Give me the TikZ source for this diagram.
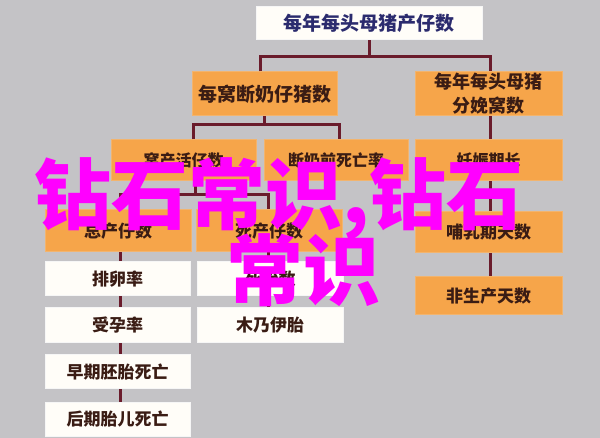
\documentclass[tikz,border=0pt]{standalone}
\usepackage{fontspec}
\newfontfamily\cjk{Noto Sans CJK SC}
\definecolor{bg}{HTML}{C4C3C6}
\definecolor{boxorange}{HTML}{F6A54A}
\definecolor{boxedge}{HTML}{F2B46E}
\definecolor{boxwhite}{HTML}{FFFDF8}
\definecolor{txtbrown}{HTML}{3A1C14}
\definecolor{txtnavy}{HTML}{2B2B6E}
\definecolor{conncol}{HTML}{6A1B2B}
\definecolor{wm}{HTML}{FF00FF}
\tikzset{
  basebox/.style={inner sep=0pt, text=txtbrown, font=\cjk\bfseries\fontsize{17}{21}\selectfont, align=center},
  obox/.style={basebox, fill=boxorange, draw=boxedge, line width=1pt},
  wbox/.style={basebox, fill=boxwhite, draw=white!85!bg, line width=1pt},
  conn/.style={draw=conncol, line width=3pt},
  overlay text/.style={text=wm, inner sep=0pt, anchor=base west, font=\cjk\bfseries\fontsize{77}{77}\selectfont}
}
\begin{document}
\begin{tikzpicture}[x=1pt,y=-1pt]
\useasboundingbox (0,0) rectangle (600,438);
\fill[bg] (0,0) rectangle (600,438);
% boxes
\node[wbox, text=txtnavy, font=\cjk\bfseries\fontsize{19}{22}\selectfont, minimum width=226, minimum height=33] (T) at (369,23.5) {每年每头母猪产仔数};
\node[obox, font=\cjk\bfseries\fontsize{19}{22}\selectfont, minimum width=145, minimum height=44] (L2) at (264.5,94) {每窝断奶仔猪数};
\node[obox, font=\cjk\bfseries\fontsize{18}{24}\selectfont, minimum width=147, minimum height=44] (R2) at (488.5,94) {每年每头母猪\\分娩窝数};
\node[obox, font=\cjk\bfseries\fontsize{16}{20}\selectfont, minimum width=145, minimum height=41] (A) at (183.5,160.5) {窝产活仔数};
\node[obox, font=\cjk\bfseries\fontsize{16}{20}\selectfont, minimum width=144, minimum height=41] (B) at (336,160.5) {断奶前死亡率};
\node[obox, font=\cjk\bfseries\fontsize{16}{20}\selectfont, minimum width=147, minimum height=41] (C) at (488.5,160.5) {妊娠期长};
\node[obox, minimum width=146, minimum height=42] (D) at (118,231) {总产仔数};
\node[obox, minimum width=146, minimum height=42] (E) at (269,231) {死产仔数};
\node[obox, minimum width=147, minimum height=41] (F) at (488.5,232.5) {哺乳期天数};
\node[obox, minimum width=147, minimum height=38] (G) at (488.5,296) {非生产天数};
\node[wbox, minimum width=145, minimum height=34] (W1) at (117.5,279) {排卵率};
\node[wbox, minimum width=146, minimum height=34] (W2) at (270,279) {死胎数};
\node[wbox, minimum width=145, minimum height=35] (W3) at (117.5,325.5) {受孕率};
\node[wbox, minimum width=146, minimum height=35] (W4) at (270,325.5) {木乃伊胎};
\node[wbox, minimum width=145, minimum height=34] (W5) at (117.5,372) {早期胚胎死亡};
\node[wbox, minimum width=145, minimum height=34] (W6) at (117.5,419) {后期胎儿死亡};
% junction coordinates
\coordinate (j1l) at (260,57);
\coordinate (j1r) at (490,57);
\coordinate (j2l) at (193,125);
\coordinate (j2r) at (339,125);
\coordinate (j3l) at (120,195);
\coordinate (j3r) at (268,195);
\coordinate (j3m) at (195,195);
% connectors
\draw[conn] (T.south) -- (T.south |- j1l);
\draw[conn] (L2.north -| j1l) -- (j1l) -- (j1r) -- (R2.north -| j1r);
\draw[conn] (L2.south) -- (L2.south |- j2l);
\draw[conn] (A.north -| j2l) -- (j2l) -- (j2r) -- (B.north -| j2r);
\draw[conn] (R2.south -| j1r) -- (C.north -| j1r);
\draw[conn] (A.south -| j3m) -- (j3m);
\draw[conn] (D.north -| j3l) -- (j3l) -- (j3r) -- (E.north -| j3r);
\draw[conn] (C.south -| j1r) -- (F.north -| j1r);
\draw[conn] (F.south -| j1r) -- (G.north -| j1r);
\draw[conn] (D.south -| j3l) -- (W1.north -| j3l);
\draw[conn] (W1.south -| j3l) -- (W3.north -| j3l);
\draw[conn] (W3.south -| j3l) -- (W5.north -| j3l);
\draw[conn] (W5.south -| j3l) -- (W6.north -| j3l);
\draw[conn] (E.south -| j3r) -- (W2.north -| j3r);
\draw[conn] (W2.south -| j3r) -- (W4.north -| j3r);
% overlay text
\node[overlay text] (ov1) at (34,224) {钻石常识,钻石};
\node[overlay text] (ov2) at (226,300) {常识};
\end{tikzpicture}
\end{document}
